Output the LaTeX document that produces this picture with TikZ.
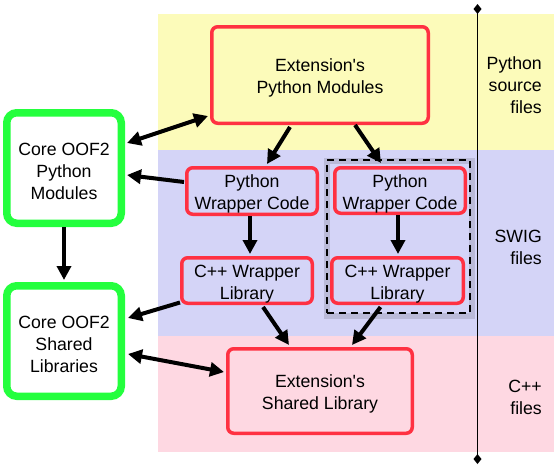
\documentclass[tikz,border=0pt]{standalone}
\usepackage{fontspec}
\setmainfont{Liberation Sans}
\usetikzlibrary{arrows.meta,calc}
\definecolor{pyband}{RGB}{252,251,186}
\definecolor{swigband}{RGB}{212,212,247}
\definecolor{cppband}{RGB}{254,216,226}
\definecolor{extred}{RGB}{255,49,66}
\definecolor{coregreen}{RGB}{36,255,62}
\newcommand\toppad{\rule{0pt}{19pt}}
\tikzset{
	boxfont/.style={font=\fontsize{17.7}{22}\selectfont},
	extbox/.style={boxfont, draw=extred, line width=3.5pt, rounded corners=6pt, inner sep=0pt, align=center},
	corebox/.style={boxfont, draw=coregreen, fill=white, line width=7.5pt, rounded corners=10pt, inner sep=0pt, align=center, minimum width=114.5pt, minimum height=110.5pt},
	flow/.style={line width=4pt, -{Triangle[length=14pt,width=14pt]}},
	twoway/.style={line width=4pt, {Triangle[length=14pt,width=14pt]}-{Triangle[length=14pt,width=14pt]}},
	bandlabel/.style={boxfont, anchor=east, align=right, inner sep=0pt}
}
\begin{document}
\begin{tikzpicture}[x=1pt,y=-1pt]
	\useasboundingbox (0,0) rectangle (554,469);
	\fill[pyband] (158,14) rectangle (554,150);
	\fill[swigband] (158,150) rectangle (554,336);
	\fill[cppband] (158,336) rectangle (554,452);
	\draw[black, opacity=.12, line width=6pt] (327,161) rectangle (472,316);
	\node[draw, line width=2.2pt, dash pattern=on 7pt off 5pt, minimum width=143pt, minimum height=153pt] (swigpair) at (398.5,236.5) {};
	\node[extbox, minimum width=216.5pt, minimum height=96.5pt] (extpy) at (320,75) {\toppad Extension\textquotesingle s\\Python Modules};
	\node[extbox, minimum width=130.5pt, minimum height=46.5pt] (pywrapL) at (252,191) {\toppad Python\\Wrapper Code};
	\node[extbox, minimum width=130.5pt, minimum height=45.5pt] (pywrapR) at (400,190.5) {\toppad Python\\Wrapper Code};
	\node[extbox, minimum width=130.5pt, minimum height=45.5pt] (cwrapL) at (247,280.5) {\toppad C++ Wrapper\\Library};
	\node[extbox, minimum width=131.5pt, minimum height=45.5pt] (cwrapR) at (397.5,280.5) {\toppad C++ Wrapper\\Library};
	\node[extbox, minimum width=184.5pt, minimum height=84.5pt] (extlib) at (320,391) {\toppad Extension\textquotesingle s\\Shared Library};
	\node[corebox] (corepy) at (64,168) {\toppad Core OOF2\\Python\\Modules};
	\node[corebox] (corelib) at (64,341) {\toppad Core OOF2\\Shared\\Libraries};
	\node[bandlabel] (pylabel) at (542,85) {Python\\source\\files};
	\node[bandlabel] (swiglabel) at (542,247) {SWIG\\files};
	\node[bandlabel] (cpplabel) at (542,397) {C++\\files};
	\coordinate (axtop) at (477.5,4);
	\coordinate (axbot) at (477.5,464);
	\draw[line width=1.5pt, {Diamond[length=10pt,width=8pt]}-{Diamond[length=10pt,width=8pt]}] (axtop) -- (axbot);
	\draw[twoway] ($(corepy.east)+(2,-25)$) -- ($(extpy.south west)+(-2,-9)$);
	\draw[flow] ($(pywrapL.west)+(-1,-9)$) -- ($(corepy.east)+(2,7)$);
	\draw[flow] ($(extpy.south)+(-30,2)$) -- ($(pywrapL.north)+(15,-2)$);
	\draw[flow] ($(extpy.south)+(35,0)$) -- ($(pywrapR.north)+(-19,-3)$);
	\draw[flow] ($(pywrapL.south)+(-2,0)$) -- ($(cwrapL.north)+(3,-2)$);
	\draw[flow] ($(pywrapR.south)+(-2,0)$) -- ($(cwrapR.north)+(0.5,-2)$);
	\draw[flow] (corepy.south) -- ($(corelib.north)+(0,-2)$);
	\draw[flow] ($(cwrapL.west)+(0,22)$) -- ($(corelib.east)+(3,-23)$);
	\draw[twoway] ($(corelib.east)+(3,13)$) -- ($(extlib.west)+(-2,-19)$);
	\draw[flow] ($(cwrapL.south)+(16,2)$) -- ($(extlib.north)+(-31,-2)$);
	\draw[flow] ($(cwrapR.south)+(-17,2)$) -- ($(extlib.north)+(32,-2)$);
\end{tikzpicture}
\end{document}
